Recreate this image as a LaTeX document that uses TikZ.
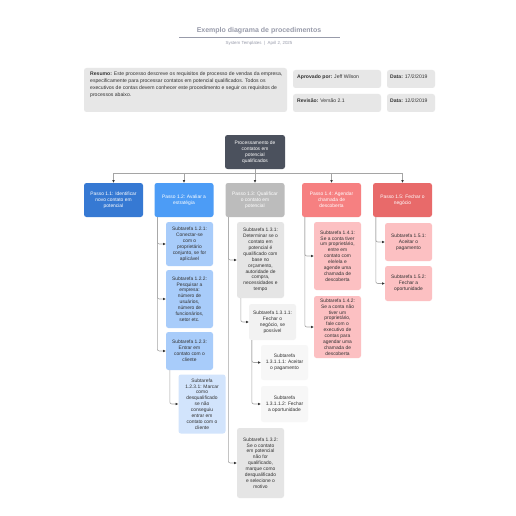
\documentclass[tikz,border=0pt]{standalone}
\usepackage{fontspec}
\setmainfont{Liberation Sans}
\usepackage{tikz}
\usetikzlibrary{arrows.meta, positioning}
\definecolor{titlegray}{RGB}{152,155,170}
\definecolor{infogray}{RGB}{231,231,231}
\definecolor{slate}{RGB}{75,81,93}
\definecolor{stepblue}{RGB}{54,121,211}
\definecolor{steplightblue}{RGB}{76,156,246}
\definecolor{stepgray}{RGB}{188,188,188}
\definecolor{steppink}{RGB}{246,128,129}
\definecolor{stepred}{RGB}{232,106,106}
\definecolor{subblue}{RGB}{168,204,250}
\definecolor{subpaleblue}{RGB}{210,228,252}
\definecolor{subgray}{RGB}{229,229,229}
\definecolor{subpalegray}{RGB}{242,242,242}
\definecolor{subpink}{RGB}{252,192,194}
\definecolor{subtext}{RGB}{50,50,50}
\definecolor{linegray}{RGB}{165,165,165}
\definecolor{tipgray}{RGB}{55,55,55}
\tikzstyle{card} = [
    rectangle,
    rounded corners=2.5pt,
    align=center,
    inner sep=1pt,
    font=\fontsize{4.9}{5.9}\selectfont
]
\tikzstyle{header} = [
    card,
    minimum width=59pt,
    minimum height=34pt,
    text=white
]
\tikzstyle{subtask} = [
    card,
    minimum width=47pt,
    text=subtext
]
\tikzstyle{infobox} = [
    rectangle,
    rounded corners=2.5pt,
    fill=infogray,
    inner sep=0pt
]
\tikzstyle{infotext} = [
    align=left,
    inner sep=0pt,
    text=subtext,
    font=\fontsize{5.1}{6.8}\selectfont
]
\tikzstyle{link} = [
    draw=linegray,
    line width=0.6pt,
    rounded corners=2pt,
    -{Latex[length=2.6pt,width=2.6pt,color=tipgray]}
]

\begin{document}
\begin{tikzpicture}[x=1pt, y=-1pt]
        \fill[white] (0,0) rectangle (516,516);
        \useasboundingbox (0,0) rectangle (516,516);

        % Title
        \node[text=titlegray, font=\fontsize{7}{8}\selectfont\bfseries] (title) at (259,31) {Exemplo diagrama de procedimentos};
        \draw[titlegray, line width=0.6pt] (179,37) -- (340,37);
        \node[text=titlegray, font=\fontsize{4.4}{5}\selectfont] (subtitle) at (259,43) {System Templates \ \textbar\ \ April 2, 2025};

        % Summary
        \node[infobox, minimum width=203pt, minimum height=44pt] (summary) at (185.5,90) {};
        \node[infotext, anchor=north west] (summarytext) at (90,72) {\textbf{Resumo:} Este processo descreve os requisitos de processo de vendas da empresa,\\especificamente para processar contatos em potencial qualificados. Todos os\\executivos de contas devem conhecer este procedimento e seguir os requisitos de\\processos abaixo.};
        \node[infobox, minimum width=88pt, minimum height=18pt] (approved) at (337,79) {};
        \node[infotext, anchor=west] (approvedtext) at (297,77) {\textbf{Aprovado por:} Jeff Wilson};
        \node[infobox, minimum width=48pt, minimum height=18pt] (date1) at (411,79) {};
        \node[infotext, anchor=west] (date1text) at (390,77) {\textbf{Data:} 17/2/2019};
        \node[infobox, minimum width=88pt, minimum height=18pt] (revision) at (337,103) {};
        \node[infotext, anchor=west] (revisiontext) at (297,101) {\textbf{Revisão:} Versão 2.1};
        \node[infobox, minimum width=48pt, minimum height=18pt] (date2) at (411,103) {};
        \node[infotext, anchor=west] (date2text) at (390,101) {\textbf{Data:} 12/2/2019};

        % Process and steps
        \node[header, fill=slate, minimum width=60pt] (process) at (255,152) {Processamento de\\contatos em\\potencial\\qualificados};
        \node[header, fill=stepblue] (h11) at (113.5,200) {Passo 1.1: Identificar\\novo contato em\\potencial};
        \node[header, fill=steplightblue] (h12) at (184,200) {Passo 1.2: Avaliar a\\estratégia};
        \node[header, fill=stepgray] (h13) at (255,200) {Passo 1.3: Qualificar\\o contato em\\potencial};
        \node[header, fill=steppink] (h14) at (331.5,200) {Passo 1.4: Agendar\\chamada de\\descoberta};
        \node[header, fill=stepred] (h15) at (402.5,200) {Passo 1.5: Fechar o\\negócio};

        % Subtasks 1.2
        \node[subtask, fill=subblue, minimum height=44pt] (s121) at (189.5,244) {Subtarefa 1.2.1:\\Conectar-se\\com o\\proprietário\\conjunto, se for\\aplicável};
        \node[subtask, fill=subblue, minimum height=58pt] (s122) at (189.5,299) {Subtarefa 1.2.2:\\Pesquisar a\\empresa:\\número de\\usuários,\\número de\\funcionários,\\setor etc.};
        \node[subtask, fill=subblue, minimum height=38pt] (s123) at (189.5,351) {Subtarefa 1.2.3:\\Entrar em\\contato com o\\cliente};
        \node[subtask, fill=subpaleblue, minimum height=59pt] (s1231) at (202,404) {Subtarefa\\1.2.3.1: Marcar\\como\\desqualificado\\se não\\conseguiu\\entrar em\\contato com o\\cliente};

        % Subtasks 1.3
        \node[subtask, fill=subgray, minimum height=76pt] (s131) at (260.5,260) {Subtarefa 1.3.1:\\Determinar se o\\contato em\\potencial é\\qualificado com\\base no\\orçamento,\\autoridade de\\compra,\\necessidades e\\tempo};
        \node[subtask, fill=subpalegray, minimum height=36pt] (s1311) at (272.5,322) {Subtarefa 1.3.1.1:\\Fechar o\\negócio, se\\possível};
        \node[subtask, fill=subpalegray!60, minimum height=35pt] (s13111) at (284.5,362.5) {Subtarefa\\1.3.1.1.1: Aceitar\\o pagamento};
        \node[subtask, fill=subpalegray!60, minimum height=36pt] (s13112) at (284.5,404) {Subtarefa\\1.3.1.1.2: Fechar\\a oportunidade};
        \node[subtask, fill=subgray, minimum height=70pt] (s132) at (260.5,463) {Subtarefa 1.3.2:\\Se o contato\\em potencial\\não for\\qualificado,\\marque como\\desqualificado\\e selecione o\\motivo};

        % Subtasks 1.4
        \node[subtask, fill=subpink, minimum height=68pt] (s141) at (337.5,256) {Subtarefa 1.4.1:\\Se a conta tiver\\um proprietário,\\entre em\\contato com\\ele/ela e\\agende uma\\chamada de\\descoberta};
        \node[subtask, fill=subpink, minimum height=62pt] (s142) at (337.5,327) {Subtarefa 1.4.2:\\Se a conta não\\tiver um\\proprietário,\\fale com o\\executivo de\\contas para\\agendar uma\\chamada de\\descoberta};

        % Subtasks 1.5
        \node[subtask, fill=subpink, minimum height=38pt] (s151) at (408.5,242) {Subtarefa 1.5.1:\\Aceitar o\\pagamento};
        \node[subtask, fill=subpink, minimum height=35pt] (s152) at (408.5,283.5) {Subtarefa 1.5.2:\\Fechar a\\oportunidade};

        % Arrows
        \coordinate (bus) at (255,173);
        \draw[draw=linegray, line width=0.6pt] (process.south) -- (bus);
        \foreach \step in {h11,h12,h13,h14,h15}
            \draw[link, rounded corners=0pt] (bus) -| (\step.north);
        \foreach \sub in {s121,s122,s123}
            \draw[link] ([xshift=3pt]h12.south west) |- (\sub.west);
        \draw[link] ([xshift=4pt]s123.south west) |- (s1231.west);
        \foreach \sub in {s131,s132}
            \draw[link] ([xshift=3pt]h13.south west) |- (\sub.west);
        \draw[link] ([xshift=4pt]s131.south west) |- (s1311.west);
        \foreach \sub in {s13111,s13112}
            \draw[link] ([xshift=3pt]s1311.south west) |- (\sub.west);
        \foreach \sub in {s141,s142}
            \draw[link] ([xshift=3pt]h14.south west) |- (\sub.west);
        \foreach \sub in {s151,s152}
            \draw[link] ([xshift=3pt]h15.south west) |- (\sub.west);
    \end{tikzpicture}
\end{document}
